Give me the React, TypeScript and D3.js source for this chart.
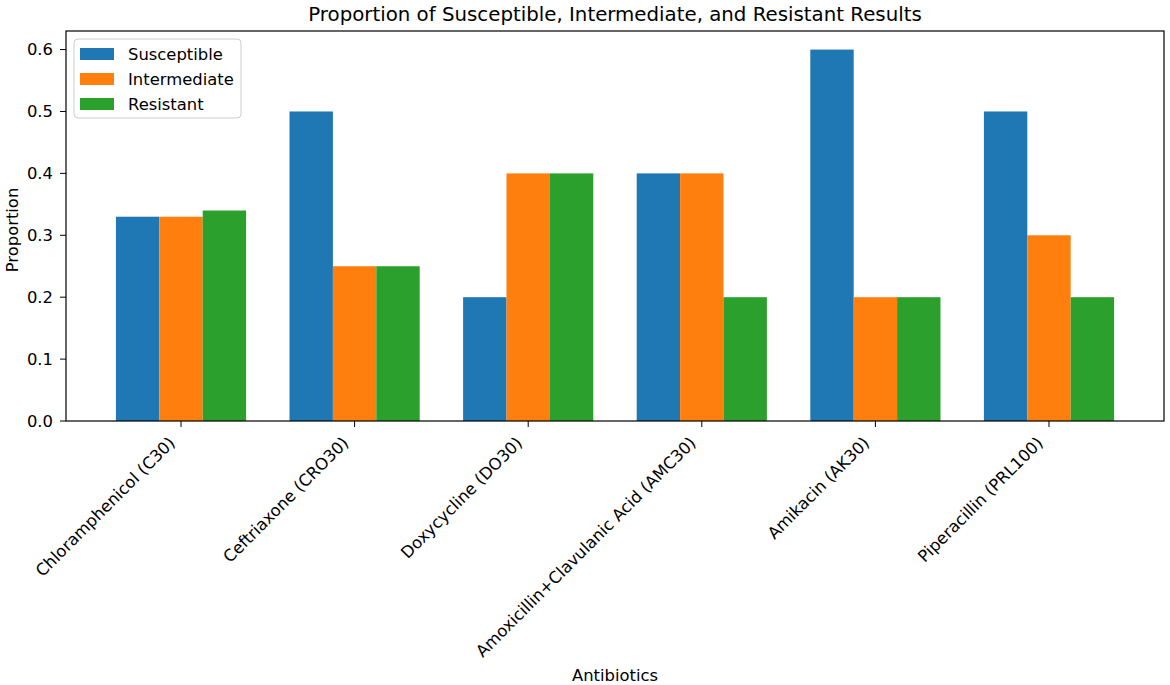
import React from 'react';
import * as d3 from 'd3';

const antibiotics = [
  'Chloramphenicol (C30)',
  'Ceftriaxone (CRO30)',
  'Doxycycline (DO30)',
  'Amoxicillin+Clavulanic Acid (AMC30)',
  'Amikacin (AK30)',
  'Piperacillin (PRL100)',
];
const seriesNames = ['Susceptible', 'Intermediate', 'Resistant'];
const susceptible = [0.33, 0.5, 0.2, 0.4, 0.6, 0.5];
const intermediate = [0.33, 0.25, 0.4, 0.4, 0.2, 0.3];
const resistant = [0.34, 0.25, 0.4, 0.2, 0.2, 0.2];
const yTicks = [0.0, 0.1, 0.2, 0.3, 0.4, 0.5, 0.6];

const colors = ['#1f77b4', '#ff7f0e', '#2ca02c'];
const font = '"DejaVu Sans", sans-serif';
const fs = 16.4;

const width = 1170;
const height = 685;
const margin = { top: 31, right: 6, bottom: 264, left: 66 };

export default function App() {
  const series = [susceptible, intermediate, resistant];
  const barW = 0.25;
  const innerW = width - margin.left - margin.right;
  const innerH = height - margin.top - margin.bottom;

  // matplotlib-style 5% padding around the data limits
  const xMin = -1.5 * barW;
  const xMax = antibiotics.length - 1 + 1.5 * barW;
  const xPad = (xMax - xMin) * 0.05;
  const x = d3.scaleLinear().domain([xMin - xPad, xMax + xPad]).range([0, innerW]);

  const yMax = d3.max(series.flat()) as number;
  const y = d3.scaleLinear().domain([0, yMax * 1.05]).range([innerH, 0]);

  return (
    <svg
      width={width}
      height={height}
      style={{ position: 'absolute', left: 0, top: 0, background: '#fff' }}
      fontFamily={font}
    >
      <text x={margin.left + innerW / 2} y={21} textAnchor="middle" fontSize={19.8}>
        Proportion of Susceptible, Intermediate, and Resistant Results
      </text>
      <g transform={`translate(${margin.left},${margin.top})`}>
        {series.map((vals, si) =>
          vals.map((v, i) => {
            const cx = i + (si - 1) * barW;
            return (
              <rect
                key={`${si}-${i}`}
                x={x(cx - barW / 2)}
                y={y(v)}
                width={x(cx + barW / 2) - x(cx - barW / 2)}
                height={y(0) - y(v)}
                fill={colors[si]}
              />
            );
          })
        )}

        {/* y axis */}
        {yTicks.map((t) => (
          <g key={t} transform={`translate(0,${y(t)})`}>
            <line x1={-6} x2={0} stroke="#000" strokeWidth={1} />
            <text x={-13} dy="0.36em" textAnchor="end" fontSize={fs}>
              {t.toFixed(1)}
            </text>
          </g>
        ))}

        {/* x axis */}
        {antibiotics.map((name, i) => (
          <g key={name} transform={`translate(${x(i)},${innerH})`}>
            <line y1={0} y2={6} stroke="#000" strokeWidth={1} />
            <text
              transform="translate(-5,23) rotate(-45)"
              textAnchor="end"
              fontSize={fs}
            >
              {name}
            </text>
          </g>
        ))}

        <rect x={0} y={0} width={innerW} height={innerH} fill="none" stroke="#000" strokeWidth={1.2} />

        {/* legend */}
        <g transform="translate(8,8)">
          <rect width={167} height={79} rx={4} fill="#fff" fillOpacity={0.8} stroke="#ccc" />
          {seriesNames.map((s, i) => (
            <g key={s} transform={`translate(6,${9 + i * 25})`}>
              <rect width={34} height={12} fill={colors[i]} />
              <text x={48} y={6} dy="0.36em" fontSize={fs}>
                {s}
              </text>
            </g>
          ))}
        </g>
      </g>

      <text
        transform={`translate(18,${margin.top + innerH / 2 + 4}) rotate(-90)`}
        textAnchor="middle"
        fontSize={fs}
      >
        Proportion
      </text>
      <text x={margin.left + innerW / 2} y={681} textAnchor="middle" fontSize={fs}>
        Antibiotics
      </text>
    </svg>
  );
}
